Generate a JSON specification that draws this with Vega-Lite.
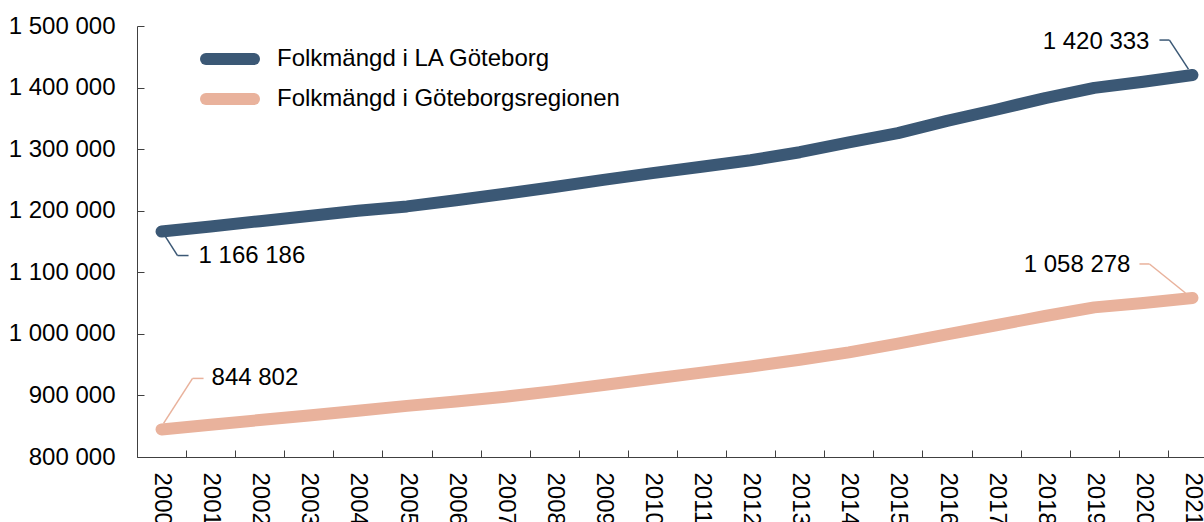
{
  "$schema": "https://vega.github.io/schema/vega-lite/v6.json",
  "autosize": {"type": "none"},
  "padding": {"left": 137, "top": 26, "right": 0, "bottom": 65},
  "width": 1080,
  "height": 431,
  "background": "white",
  "config": {
    "view": {"stroke": null},
    "font": "Liberation Sans",
    "locale": {"number": {"decimal": ",", "thousands": " ", "grouping": [3], "currency": ["", " kr"]}},
    "axis": {"domainColor": "#404040", "tickColor": "#404040", "labelColor": "#000000", "labelFont": "Liberation Sans", "labelFontSize": 24, "grid": false, "title": null},
    "legend": {"orient": "none", "title": null, "labelFontSize": 24, "labelFont": "Liberation Sans", "labelColor": "#000000", "labelLimit": 0, "symbolType": "stroke", "symbolSize": 2304, "symbolStrokeWidth": 12, "rowPadding": 0, "labelOffset": 17, "padding": 0}
  },
  "resolve": {"scale": {"color": "independent"}, "legend": {"color": "independent"}},
  "data": {"values": [
    {"year": 2000, "series": "Folkmängd i LA Göteborg", "value": 1166186},
    {"year": 2001, "series": "Folkmängd i LA Göteborg", "value": 1174500},
    {"year": 2002, "series": "Folkmängd i LA Göteborg", "value": 1183000},
    {"year": 2003, "series": "Folkmängd i LA Göteborg", "value": 1191500},
    {"year": 2004, "series": "Folkmängd i LA Göteborg", "value": 1200000},
    {"year": 2005, "series": "Folkmängd i LA Göteborg", "value": 1207000},
    {"year": 2006, "series": "Folkmängd i LA Göteborg", "value": 1217000},
    {"year": 2007, "series": "Folkmängd i LA Göteborg", "value": 1227500},
    {"year": 2008, "series": "Folkmängd i LA Göteborg", "value": 1238500},
    {"year": 2009, "series": "Folkmängd i LA Göteborg", "value": 1250000},
    {"year": 2010, "series": "Folkmängd i LA Göteborg", "value": 1261000},
    {"year": 2011, "series": "Folkmängd i LA Göteborg", "value": 1271500},
    {"year": 2012, "series": "Folkmängd i LA Göteborg", "value": 1282000},
    {"year": 2013, "series": "Folkmängd i LA Göteborg", "value": 1295000},
    {"year": 2014, "series": "Folkmängd i LA Göteborg", "value": 1311000},
    {"year": 2015, "series": "Folkmängd i LA Göteborg", "value": 1326000},
    {"year": 2016, "series": "Folkmängd i LA Göteborg", "value": 1346000},
    {"year": 2017, "series": "Folkmängd i LA Göteborg", "value": 1364000},
    {"year": 2018, "series": "Folkmängd i LA Göteborg", "value": 1383000},
    {"year": 2019, "series": "Folkmängd i LA Göteborg", "value": 1399500},
    {"year": 2020, "series": "Folkmängd i LA Göteborg", "value": 1409500},
    {"year": 2021, "series": "Folkmängd i LA Göteborg", "value": 1420333},
    {"year": 2000, "series": "Folkmängd i Göteborgsregionen", "value": 844802},
    {"year": 2001, "series": "Folkmängd i Göteborgsregionen", "value": 852500},
    {"year": 2002, "series": "Folkmängd i Göteborgsregionen", "value": 860000},
    {"year": 2003, "series": "Folkmängd i Göteborgsregionen", "value": 867500},
    {"year": 2004, "series": "Folkmängd i Göteborgsregionen", "value": 875000},
    {"year": 2005, "series": "Folkmängd i Göteborgsregionen", "value": 883000},
    {"year": 2006, "series": "Folkmängd i Göteborgsregionen", "value": 890000},
    {"year": 2007, "series": "Folkmängd i Göteborgsregionen", "value": 898000},
    {"year": 2008, "series": "Folkmängd i Göteborgsregionen", "value": 907000},
    {"year": 2009, "series": "Folkmängd i Göteborgsregionen", "value": 917000},
    {"year": 2010, "series": "Folkmängd i Göteborgsregionen", "value": 927000},
    {"year": 2011, "series": "Folkmängd i Göteborgsregionen", "value": 937000},
    {"year": 2012, "series": "Folkmängd i Göteborgsregionen", "value": 947000},
    {"year": 2013, "series": "Folkmängd i Göteborgsregionen", "value": 958000},
    {"year": 2014, "series": "Folkmängd i Göteborgsregionen", "value": 970000},
    {"year": 2015, "series": "Folkmängd i Göteborgsregionen", "value": 984000},
    {"year": 2016, "series": "Folkmängd i Göteborgsregionen", "value": 999000},
    {"year": 2017, "series": "Folkmängd i Göteborgsregionen", "value": 1014000},
    {"year": 2018, "series": "Folkmängd i Göteborgsregionen", "value": 1029000},
    {"year": 2019, "series": "Folkmängd i Göteborgsregionen", "value": 1043000},
    {"year": 2020, "series": "Folkmängd i Göteborgsregionen", "value": 1050000},
    {"year": 2021, "series": "Folkmängd i Göteborgsregionen", "value": 1058278}
  ]},
  "encoding": {
    "x": {"field": "year", "type": "ordinal", "bandPosition": 0.5,
      "scale": {"type": "band", "paddingInner": 0, "paddingOuter": 0},
      "axis": {"labelAngle": 90, "labelAlign": "left", "labelBaseline": "middle", "tickBand": "extent", "tickSize": -7, "labelPadding": 22}},
    "y": {"field": "value", "type": "quantitative",
      "scale": {"domain": [800000, 1500000], "nice": false, "zero": false},
      "axis": {"values": [800000, 900000, 1000000, 1100000, 1200000, 1300000, 1400000, 1500000], "format": ",d", "tickSize": -7, "labelPadding": 29}}
  },
  "layer": [
    {
      "transform": [{"filter": "datum.series == 'Folkmängd i LA Göteborg'"}],
      "mark": {"type": "line", "strokeWidth": 12, "strokeCap": "round", "strokeJoin": "round"},
      "encoding": {
        "color": {"field": "series", "type": "nominal",
          "scale": {"domain": ["Folkmängd i LA Göteborg"], "range": ["#3B5875"]},
          "legend": {"legendX": 63, "legendY": 3, "encode": {"symbols": {"update": {"strokeCap": {"value": "round"}}}}}
        }
      }
    },
    {
      "transform": [{"filter": "datum.series == 'Folkmängd i Göteborgsregionen'"}],
      "mark": {"type": "line", "strokeWidth": 12, "strokeCap": "round", "strokeJoin": "round"},
      "encoding": {
        "color": {"field": "series", "type": "nominal",
          "scale": {"domain": ["Folkmängd i Göteborgsregionen"], "range": ["#E9B29C"]},
          "legend": {"legendX": 63, "legendY": 43, "encode": {"symbols": {"update": {"strokeCap": {"value": "round"}}}}}
        }
      }
    },
    {
      "transform": [{"filter": "datum.year == 2000 && datum.series == 'Folkmängd i LA Göteborg'"}],
      "mark": {"type": "rule", "color": "#3B5875", "strokeWidth": 1.5, "xOffset": 2, "yOffset": 2, "x2Offset": 16, "y2Offset": 24},
      "encoding": {"x2": {"field": "year", "bandPosition": 0.5}, "y2": {"field": "value"}}
    },
    {
      "transform": [{"filter": "datum.year == 2000 && datum.series == 'Folkmängd i LA Göteborg'"}],
      "mark": {"type": "rule", "color": "#3B5875", "strokeWidth": 1.5, "xOffset": 16, "yOffset": 24, "x2Offset": 27, "y2Offset": 24},
      "encoding": {"x2": {"field": "year", "bandPosition": 0.5}, "y2": {"field": "value"}}
    },
    {
      "transform": [{"filter": "datum.year == 2000 && datum.series == 'Folkmängd i LA Göteborg'"}],
      "mark": {"type": "text", "align": "left", "baseline": "middle", "dx": 37, "dy": 24, "fontSize": 24, "font": "Liberation Sans", "color": "#000000"},
      "encoding": {"text": {"field": "value", "type": "quantitative", "format": ",d"}}
    },
    {
      "transform": [{"filter": "datum.year == 2021 && datum.series == 'Folkmängd i LA Göteborg'"}],
      "mark": {"type": "rule", "color": "#3B5875", "strokeWidth": 1.5, "xOffset": -4, "yOffset": -6, "x2Offset": -23, "y2Offset": -35},
      "encoding": {"x2": {"field": "year", "bandPosition": 0.5}, "y2": {"field": "value"}}
    },
    {
      "transform": [{"filter": "datum.year == 2021 && datum.series == 'Folkmängd i LA Göteborg'"}],
      "mark": {"type": "rule", "color": "#3B5875", "strokeWidth": 1.5, "xOffset": -23, "yOffset": -35, "x2Offset": -33, "y2Offset": -35},
      "encoding": {"x2": {"field": "year", "bandPosition": 0.5}, "y2": {"field": "value"}}
    },
    {
      "transform": [{"filter": "datum.year == 2021 && datum.series == 'Folkmängd i LA Göteborg'"}],
      "mark": {"type": "text", "align": "right", "baseline": "middle", "dx": -43, "dy": -33, "fontSize": 24, "font": "Liberation Sans", "color": "#000000"},
      "encoding": {"text": {"field": "value", "type": "quantitative", "format": ",d"}}
    },
    {
      "transform": [{"filter": "datum.year == 2000 && datum.series == 'Folkmängd i Göteborgsregionen'"}],
      "mark": {"type": "rule", "color": "#E9B29C", "strokeWidth": 1.5, "xOffset": 2, "yOffset": -6, "x2Offset": 31, "y2Offset": -51},
      "encoding": {"x2": {"field": "year", "bandPosition": 0.5}, "y2": {"field": "value"}}
    },
    {
      "transform": [{"filter": "datum.year == 2000 && datum.series == 'Folkmängd i Göteborgsregionen'"}],
      "mark": {"type": "rule", "color": "#E9B29C", "strokeWidth": 1.5, "xOffset": 31, "yOffset": -51, "x2Offset": 42, "y2Offset": -51},
      "encoding": {"x2": {"field": "year", "bandPosition": 0.5}, "y2": {"field": "value"}}
    },
    {
      "transform": [{"filter": "datum.year == 2000 && datum.series == 'Folkmängd i Göteborgsregionen'"}],
      "mark": {"type": "text", "align": "left", "baseline": "middle", "dx": 50, "dy": -51, "fontSize": 24, "font": "Liberation Sans", "color": "#000000"},
      "encoding": {"text": {"field": "value", "type": "quantitative", "format": ",d"}}
    },
    {
      "transform": [{"filter": "datum.year == 2021 && datum.series == 'Folkmängd i Göteborgsregionen'"}],
      "mark": {"type": "rule", "color": "#E9B29C", "strokeWidth": 1.5, "xOffset": -7, "yOffset": -5, "x2Offset": -43, "y2Offset": -34},
      "encoding": {"x2": {"field": "year", "bandPosition": 0.5}, "y2": {"field": "value"}}
    },
    {
      "transform": [{"filter": "datum.year == 2021 && datum.series == 'Folkmängd i Göteborgsregionen'"}],
      "mark": {"type": "rule", "color": "#E9B29C", "strokeWidth": 1.5, "xOffset": -43, "yOffset": -34, "x2Offset": -53, "y2Offset": -34},
      "encoding": {"x2": {"field": "year", "bandPosition": 0.5}, "y2": {"field": "value"}}
    },
    {
      "transform": [{"filter": "datum.year == 2021 && datum.series == 'Folkmängd i Göteborgsregionen'"}],
      "mark": {"type": "text", "align": "right", "baseline": "middle", "dx": -62, "dy": -33, "fontSize": 24, "font": "Liberation Sans", "color": "#000000"},
      "encoding": {"text": {"field": "value", "type": "quantitative", "format": ",d"}}
    }
  ]
}
